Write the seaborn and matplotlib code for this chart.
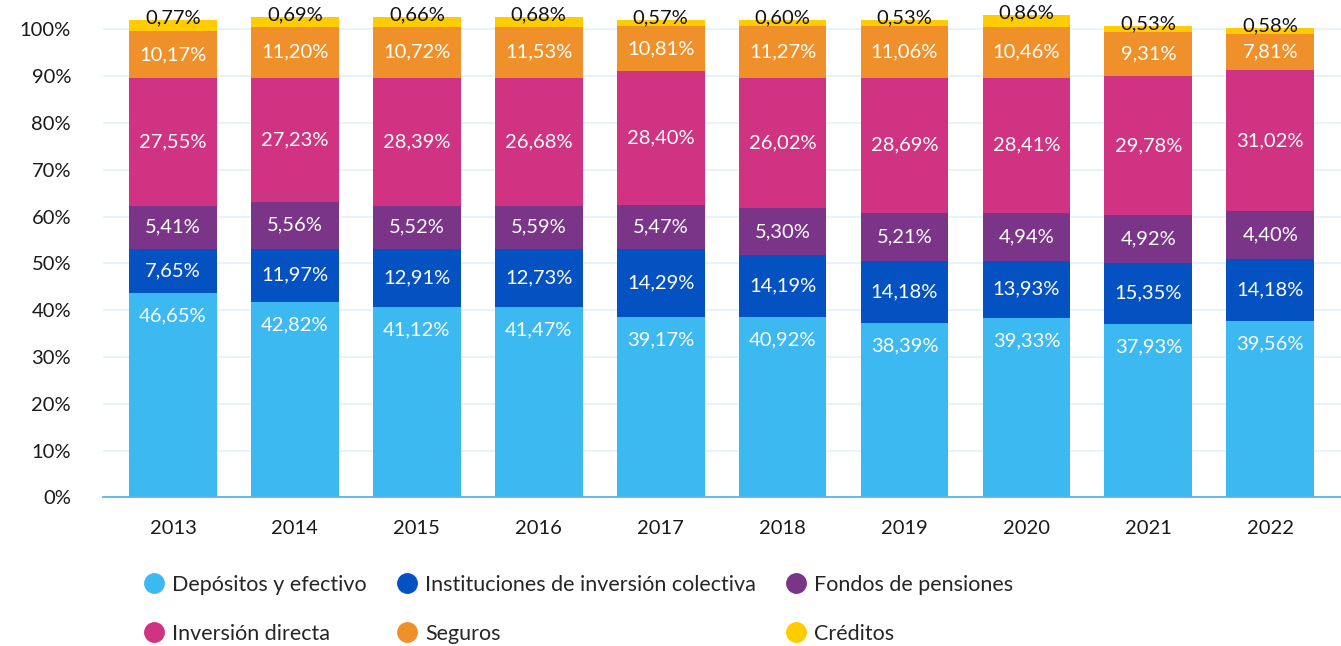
import numpy as np
import pandas as pd
import matplotlib
matplotlib.use('Agg')
import matplotlib.pyplot as plt
from matplotlib.lines import Line2D
from matplotlib.ticker import FuncFormatter
import seaborn as sns

years = ['2013', '2014', '2015', '2016', '2017', '2018', '2019', '2020', '2021', '2022']

series = ['Depósitos y efectivo', 'Instituciones de inversión colectiva', 'Fondos de pensiones',
          'Inversión directa', 'Seguros', 'Créditos']
colors = ['#3db9f2', '#0451c1', '#7a3589', '#cf3381', '#f0902a', '#ffcc00']

# printed shares (%)
depositos = [46.65, 42.82, 41.12, 41.47, 39.17, 40.92, 38.39, 39.33, 37.93, 39.56]
instituciones = [7.65, 11.97, 12.91, 12.73, 14.29, 14.19, 14.18, 13.93, 15.35, 14.18]
pensiones = [5.41, 5.56, 5.52, 5.59, 5.47, 5.30, 5.21, 4.94, 4.92, 4.40]
inversion = [27.55, 27.23, 28.39, 26.68, 28.40, 26.02, 28.69, 28.41, 29.78, 31.02]
seguros = [10.17, 11.20, 10.72, 11.53, 10.81, 11.27, 11.06, 10.46, 9.31, 7.81]
creditos = [0.77, 0.69, 0.66, 0.68, 0.57, 0.60, 0.53, 0.86, 0.53, 0.58]

# segment heights as drawn in the original graphic (not equal to the printed shares)
depositos_h = [43.7, 41.8, 40.7, 40.7, 38.6, 38.6, 37.3, 38.4, 37.1, 37.7]
instituciones_h = [9.4, 11.3, 12.4, 12.4, 14.5, 13.2, 13.2, 12.1, 13.0, 13.2]
pensiones_h = [9.2, 10.1, 9.2, 9.2, 9.4, 10.0, 10.3, 10.3, 10.2, 10.3]
inversion_h = [27.4, 26.5, 27.4, 27.4, 28.6, 27.9, 28.9, 28.9, 29.7, 30.1]
seguros_h = [9.9, 10.9, 10.9, 10.9, 9.7, 11.1, 11.1, 10.9, 9.5, 7.8]
creditos_h = [2.4, 2.1, 2.1, 2.1, 1.2, 1.2, 1.2, 2.5, 1.3, 1.2]

labels = [depositos, instituciones, pensiones, inversion, seguros, creditos]
heights = [depositos_h, instituciones_h, pensiones_h, inversion_h, seguros_h, creditos_h]

df = pd.DataFrame(np.array(heights).T, columns=series)
cum = df.cumsum(axis=1)
cum['year'] = years

sns.set_theme(style='white')
plt.rcParams['font.family'] = ['Lato', 'DejaVu Sans']

fig, ax = plt.subplots(figsize=(13.41, 6.46), dpi=100)
fig.subplots_adjust(left=0.0768, right=1.0, top=1.0, bottom=0.2302)

# stacked bars: draw cumulative totals from the top level down
for name, col in reversed(list(zip(series, colors))):
    sns.barplot(data=cum, x='year', y=name, color=col, saturation=1, width=0.72,
                edgecolor='none', linewidth=0, ax=ax, zorder=2)

def fmt(v):
    return f'{v:.2f}'.replace('.', ',') + '%'

for i in range(len(years)):
    base = 0
    for k, name in enumerate(series):
        h = heights[k][i]
        top = base + h
        txt = fmt(labels[k][i])
        if k == 0:
            ax.text(i, top - 4.9, txt, ha='center', va='center', color='white', fontsize=14.5, zorder=3)
        elif k == 5:
            ax.text(i, top + 0.5, txt, ha='center', va='center', color='#111111', fontsize=14.5, zorder=3)
        else:
            ax.text(i, base + h / 2, txt, ha='center', va='center', color='white', fontsize=14.5, zorder=3)
        base = top

ax.set_ylim(0, 106.3)
ax.set_xlim(-0.574, 9.58)
ax.set_yticks(range(0, 101, 10))
ax.yaxis.set_major_formatter(FuncFormatter(lambda v, p: f'{v:.0f}%'))
ax.set_xlabel('')
ax.set_ylabel('')
ax.set_axisbelow(True)
ax.yaxis.grid(True, color='#e2f1fb', linewidth=1.2, zorder=0)
ax.xaxis.grid(False)
for s in ['top', 'right', 'left']:
    ax.spines[s].set_visible(False)
ax.spines['bottom'].set_color('#5ab4e6')
ax.spines['bottom'].set_linewidth(1.3)
ax.tick_params(axis='y', length=0, pad=23, labelsize=14.5, labelcolor='#1a1a1a')
ax.tick_params(axis='x', length=0, pad=16, labelsize=14.5, labelcolor='#1a1a1a')

# legend, row-wise order across three columns
order = [0, 3, 1, 4, 2, 5]
handles = [Line2D([], [], marker='o', linestyle='', markersize=14, color=colors[j]) for j in order]
names = [series[j] for j in order]
fig.legend(handles, names, loc='upper left', bbox_to_anchor=(0.1085, 0.110), ncol=3, frameon=False,
           fontsize=15.5, handlelength=0.8, handletextpad=0.45, columnspacing=1.45, labelspacing=1.35,
           borderaxespad=0, borderpad=0)

plt.savefig('out.png', dpi=100)
